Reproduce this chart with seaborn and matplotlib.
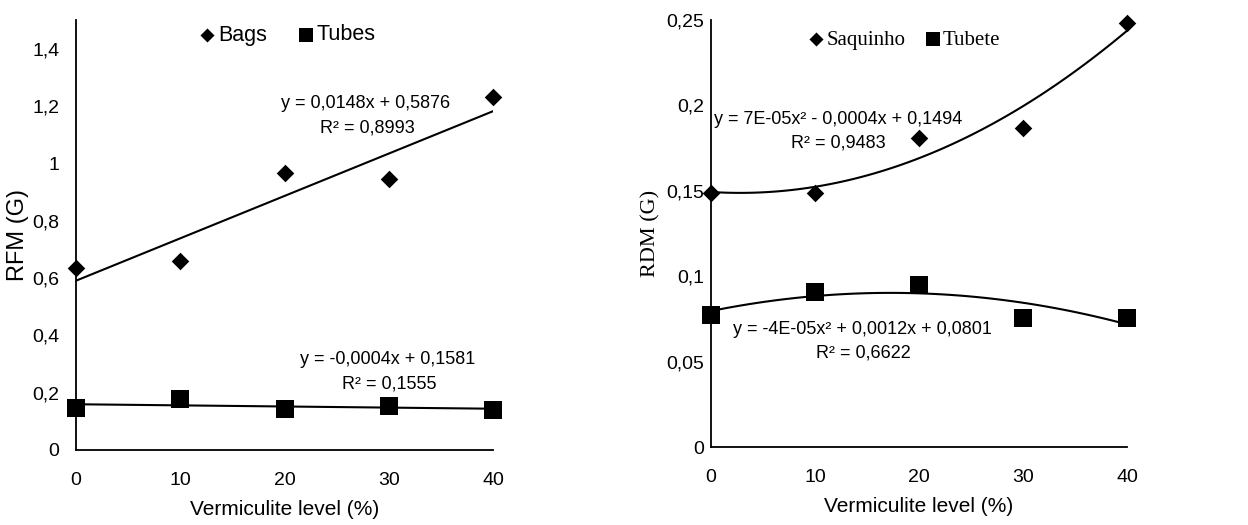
import numpy as np
import pandas as pd
import matplotlib
matplotlib.use("Agg")
import matplotlib.pyplot as plt
import seaborn as sns

# ----------------------------- Data -----------------------------
levels = [0, 10, 20, 30, 40]

rfm_bags = [0.634, 0.658, 0.965, 0.944, 1.230]
rfm_tubes = [0.146, 0.178, 0.143, 0.153, 0.139]

rdm_saquinho = [0.149, 0.149, 0.181, 0.187, 0.248]
rdm_tubete = [0.0775, 0.091, 0.0947, 0.0755, 0.0755]

left_ticks = [0, 0.2, 0.4, 0.6, 0.8, 1.0, 1.2, 1.4]
left_ticklabels = ["0", "0,2", "0,4", "0,6", "0,8", "1", "1,2", "1,4"]
right_ticks = [0, 0.05, 0.1, 0.15, 0.2, 0.25]
right_ticklabels = ["0", "0,05", "0,1", "0,15", "0,2", "0,25"]
x_ticklabels = ["0", "10", "20", "30", "40"]

# ----------------------------- Style -----------------------------
sns.set_theme(style="white")
plt.rcParams["font.family"] = ["Liberation Sans", "DejaVu Sans"]
plt.rcParams["text.color"] = "black"
plt.rcParams["axes.labelcolor"] = "black"
plt.rcParams["xtick.color"] = "black"
plt.rcParams["ytick.color"] = "black"
SERIF = ["Liberation Serif", "DejaVu Serif"]

W, H = 1248, 525
fig = plt.figure(figsize=(W / 100, H / 100), dpi=100)


def px(x, y):
    return x / W, 1 - y / H


def style_axes(ax, ylim, ticks, ticklabels, ypad):
    ax.set_xlim(0, 40)
    ax.set_ylim(*ylim)
    ax.set_xticks(levels)
    ax.set_xticklabels(x_ticklabels, fontsize=14)
    ax.set_yticks(ticks)
    ax.set_yticklabels(ticklabels, fontsize=14)
    ax.tick_params(axis="x", length=0, pad=16)
    ax.tick_params(axis="y", length=0, pad=ypad)
    for side in ["top", "right"]:
        ax.spines[side].set_visible(False)
    for side in ["left", "bottom"]:
        ax.spines[side].set_color("black")
        ax.spines[side].set_linewidth(1.3)
    ax.set_xlabel("Vermiculite level (%)", fontsize=15, labelpad=8)


def draw_series(ax, y_a, y_b, order, label_a, label_b):
    sns.scatterplot(x=levels, y=y_a, marker="D", s=80, color="black", edgecolor="black",
                    linewidth=0, label=label_a, ax=ax, clip_on=False, zorder=3)
    sns.scatterplot(x=levels, y=y_b, marker="s", s=160, color="black", edgecolor="black",
                    linewidth=0, label=label_b, ax=ax, clip_on=False, zorder=3)
    for y in (y_a, y_b):
        sns.regplot(x=np.array(levels), y=np.array(y), order=order, ci=None, scatter=False,
                    color="black", line_kws={"linewidth": 1.5}, ax=ax, truncate=True)


# ----------------------------- Left panel -----------------------------
ax1 = fig.add_axes([76 / W, 75 / H, 417 / W, 430 / H])
draw_series(ax1, rfm_bags, rfm_tubes, 1, "Bags", "Tubes")
style_axes(ax1, (0, 1.5), left_ticks, left_ticklabels, 12)
ax1.set_ylabel("RFM (G)", fontsize=17, labelpad=2)
ax1.legend(loc="center", bbox_to_anchor=px(286, 35), bbox_transform=fig.transFigure,
           ncol=2, frameon=False, fontsize=15.5, handletextpad=0.0, handlelength=1.0,
           columnspacing=1.3, markerscale=0.8)

fig.text(*px(366, 104), "y = 0,0148x + 0,5876", ha="center", va="center", fontsize=13)
fig.text(*px(367, 128), "R² = 0,8993", ha="center", va="center", fontsize=13)
fig.text(*px(388, 360), "y = -0,0004x + 0,1581", ha="center", va="center", fontsize=13)
fig.text(*px(389, 384), "R² = 0,1555", ha="center", va="center", fontsize=13)

# ----------------------------- Right panel -----------------------------
ax2 = fig.add_axes([711 / W, 78 / H, 416 / W, 427 / H])
draw_series(ax2, rdm_saquinho, rdm_tubete, 2, "Saquinho", "Tubete")
style_axes(ax2, (0, 0.25), right_ticks, right_ticklabels, 5)
ax2.set_ylabel("RDM (G)", fontsize=16, family=SERIF, labelpad=4)
ax2.legend(loc="center", bbox_to_anchor=px(903, 40), bbox_transform=fig.transFigure,
           ncol=2, frameon=False, prop={"family": SERIF, "size": 15}, handletextpad=0.0,
           handlelength=1.0, columnspacing=0.8, markerscale=0.8)

fig.text(*px(838, 119), "y = 7E-05x² - 0,0004x + 0,1494", ha="center", va="center", fontsize=13)
fig.text(*px(838, 143), "R² = 0,9483", ha="center", va="center", fontsize=13)
fig.text(*px(862, 329), "y = -4E-05x² + 0,0012x + 0,0801", ha="center", va="center", fontsize=13)
fig.text(*px(863, 353), "R² = 0,6622", ha="center", va="center", fontsize=13)

fig.savefig("out.png", dpi=100)
